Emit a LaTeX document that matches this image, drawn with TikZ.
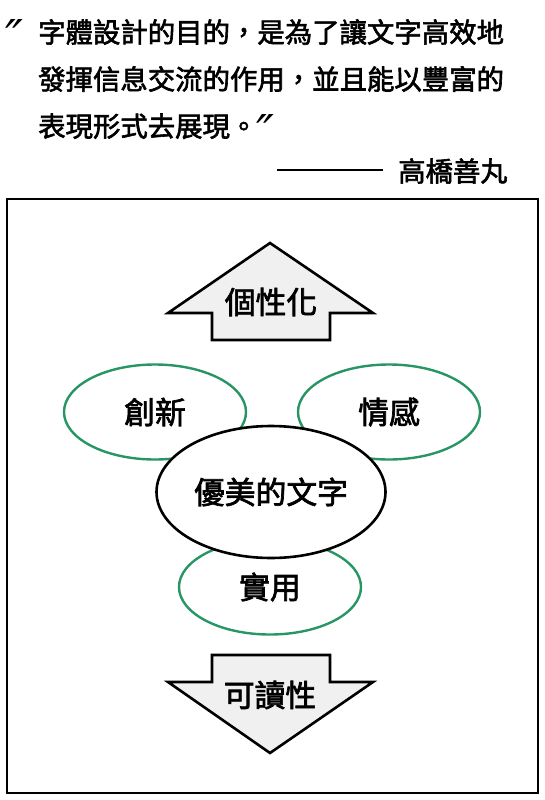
\documentclass[tikz,border=0pt]{standalone}
\usepackage{fontspec}
\setmainfont{Noto Sans CJK TC}[FakeBold=2.2]
\newfontfamily\markfont{DejaVu Sans}
\usetikzlibrary{shapes.geometric}
\definecolor{leafgreen}{RGB}{40,150,100}
\definecolor{arrowgray}{RGB}{240,240,240}

\begin{document}
\begin{tikzpicture} [
                x=1pt, y=-1pt,
                quoteline/.style={anchor=base west, inner sep=0pt, font=\fontsize{27.4}{30}\selectfont},
                quotemark/.style={quoteline, font=\fontsize{48}{50}\selectfont\markfont\itshape},
                tag/.style={inner sep=0pt, font=\fontsize{30.8}{34}\selectfont},
                trait/.style={tag, ellipse, draw=leafgreen, line width=2.4pt, fill=white, minimum width=182pt, minimum height=95pt},
                core/.style={tag, ellipse, draw=black, line width=2.6pt, fill=white, minimum width=229pt, minimum height=132pt},
                bigarrow/.style={draw=black, line width=2.6pt, fill=arrowgray, line join=miter},
            ]
            \useasboundingbox (0,0) rectangle (545,800);
            % quotation
            \node[quotemark] (open) at (5,55) {″};
            \foreach \ypos/\name/\txt in {
                    42.5/lineA/字體設計的目的，是為了讓文字高效地,
                    89.5/lineB/發揮信息交流的作用，並且能以豐富的,
                    136.5/lineC/表現形式去展現。}
                \node[quoteline] (\name) at (38,\ypos) {\txt};
            \node[quotemark] (close) at (256,149) {″};
            \node[quoteline, anchor=base east] (author) at (508,181.5) {\rule[0.37em]{106pt}{2pt}\hspace{15pt}高橋善丸};
            % frame
            \draw[line width=2.6pt] (7,199) rectangle (538,793);
            % arrows
            \path[bigarrow] (270,243) -- (373,313) -- (330,313) -- (330,340)
                -- (212,340) -- (212,313) -- (168,313) -- cycle;
            \path[bigarrow] (212,655) -- (330,655) -- (330,682) -- (373,682)
                -- (270,753) -- (168,682) -- (212,682) -- cycle;
            \node[tag] (individual) at (271,302) {個性化};
            \node[tag] (legible) at (270,695) {可讀性};
            % ellipses
            \foreach \pos/\name/\txt in {
                    {(155,412)/innovation/創新}, {(389,412)/emotion/情感}, {(270,587)/utility/實用}}
                \node[trait] (\name) at \pos {\txt};
            \node[core] (beauty) at (271,492) {優美的文字};
        \end{tikzpicture}
\end{document}
